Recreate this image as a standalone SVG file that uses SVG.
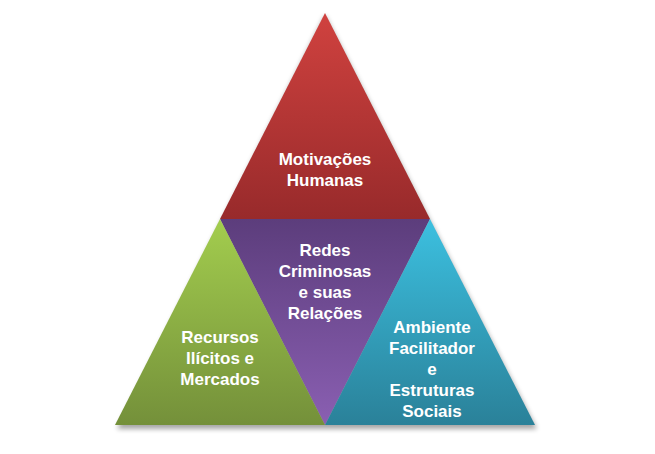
<svg xmlns="http://www.w3.org/2000/svg" width="655" height="454" viewBox="0 0 655 454">
<defs>
<linearGradient id="gr" x1="0" y1="0" x2="0" y2="1"><stop offset="0" stop-color="#d0423f"/><stop offset="1" stop-color="#982a2b"/></linearGradient>
<linearGradient id="gp" x1="0" y1="0" x2="0" y2="1"><stop offset="0" stop-color="#5c3d7c"/><stop offset="1" stop-color="#8a5fb2"/></linearGradient>
<linearGradient id="gg" x1="0" y1="0" x2="0" y2="1"><stop offset="0" stop-color="#a3cd4e"/><stop offset="1" stop-color="#74903a"/></linearGradient>
<linearGradient id="gb" x1="0" y1="0" x2="0" y2="1"><stop offset="0" stop-color="#3cc0e0"/><stop offset="1" stop-color="#2a8199"/></linearGradient>
<filter id="sh" x="-10%" y="-10%" width="120%" height="130%"><feGaussianBlur stdDeviation="2.5"/></filter>
<style>text{font-family:"Liberation Sans",Arial,sans-serif;font-weight:bold;font-size:17px;fill:#fff;text-anchor:middle}</style>
</defs>
<polygon points="325,15 117,429 537,429" fill="#000" opacity="0.35" filter="url(#sh)"/>
<g id="top"><polygon points="325,13 220,219 430,219" fill="url(#gr)"/><text x="325" y="165">Motivações</text><text x="325" y="186">Humanas</text></g>
<g id="middle"><polygon points="220,219 430,219 325,425" fill="url(#gp)"/><text x="325" y="256">Redes</text><text x="325" y="277">Criminosas</text><text x="325" y="298">e suas</text><text x="325" y="319">Relações</text></g>
<g id="left"><polygon points="220,219 115,425 325,425" fill="url(#gg)"/><text x="220" y="343">Recursos</text><text x="220" y="364">Ilícitos e</text><text x="220" y="385">Mercados</text></g>
<g id="right"><polygon points="430,219 325,425 535,425" fill="url(#gb)"/><text x="432" y="333">Ambiente</text><text x="432" y="354">Facilitador</text><text x="432" y="375">e</text><text x="432" y="396">Estruturas</text><text x="432" y="417">Sociais</text></g>
<g id="connectors"/>
</svg>
